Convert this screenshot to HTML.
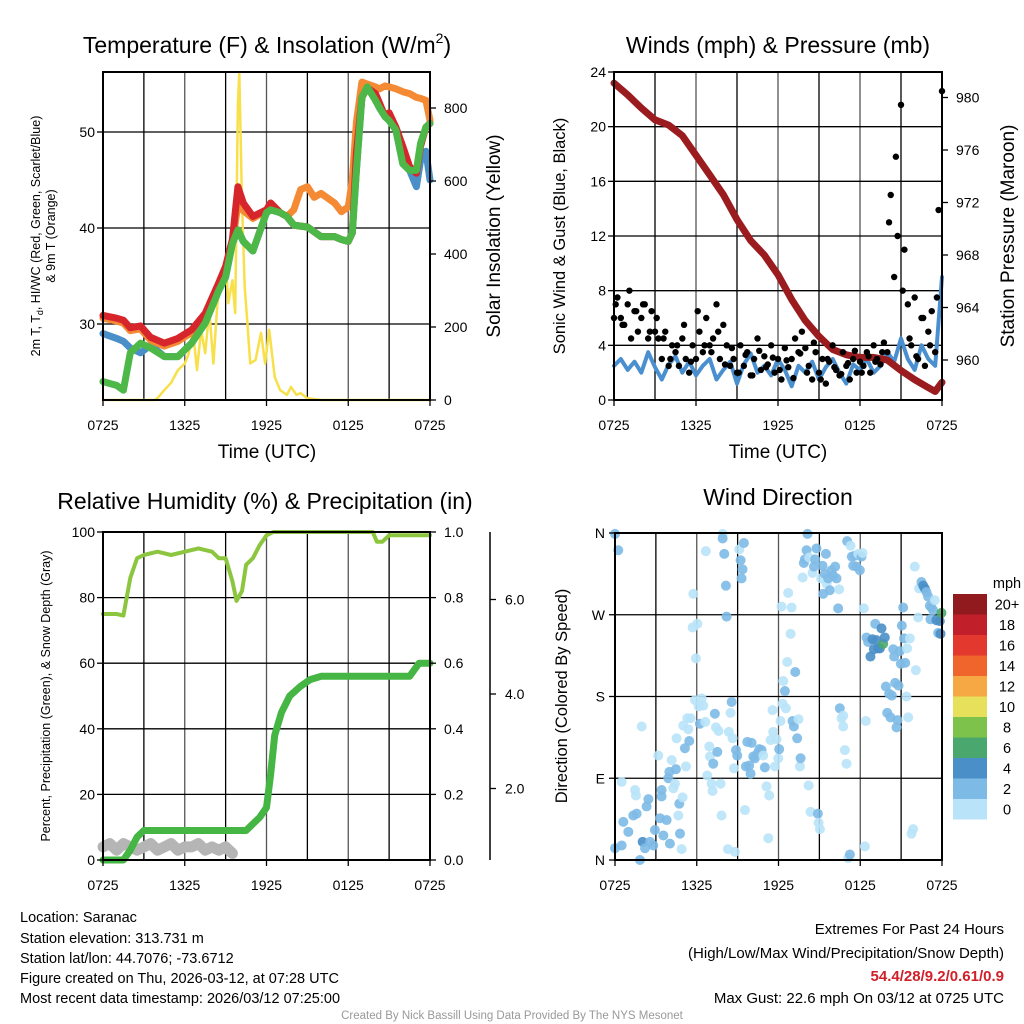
<!DOCTYPE html>
<html><head><meta charset="utf-8">
<style>
html,body{margin:0;padding:0;background:#fff;}
svg{display:block;font-family:"Liberation Sans",Arial,sans-serif;}
</style></head>
<body>
<svg id="c" width="1024" height="1024" viewBox="0 0 1024 1024" xmlns="http://www.w3.org/2000/svg">
<g id="grid"></g>
<g id="marks"></g>
<g id="axes"></g>
<g id="texts" fill="#000">
<text x="267" y="53" font-size="23" text-anchor="middle">Temperature (F) &amp; Insolation (W/m<tspan font-size="14" dy="-10">2</tspan><tspan dy="10">)</tspan></text>
<text x="778" y="53" font-size="23" text-anchor="middle">Winds (mph) &amp; Pressure (mb)</text>
<text x="265" y="509" font-size="23" text-anchor="middle">Relative Humidity (%) &amp; Precipitation (in)</text>
<text x="778" y="505" font-size="23" text-anchor="middle">Wind Direction</text>
<text x="267" y="458" font-size="19" text-anchor="middle">Time (UTC)</text>
<text x="778" y="458" font-size="19" text-anchor="middle">Time (UTC)</text>
<text transform="translate(40,236) rotate(-90)" font-size="12.5" text-anchor="middle">2m T, T<tspan font-size="9" dy="3">d</tspan><tspan dy="-3">, HI/WC (Red, Green, Scarlet/Blue)</tspan></text>
<text transform="translate(55,236) rotate(-90)" font-size="12.5" text-anchor="middle">&amp; 9m T (Orange)</text>
<text transform="translate(500,236) rotate(-90)" font-size="19" text-anchor="middle">Solar Insolation (Yellow)</text>
<text transform="translate(565,236) rotate(-90)" font-size="16.5" text-anchor="middle">Sonic Wind &amp; Gust (Blue, Black)</text>
<text transform="translate(1014,236) rotate(-90)" font-size="19" text-anchor="middle">Station Pressure (Maroon)</text>
<text transform="translate(50,696) rotate(-90)" font-size="12.5" text-anchor="middle">Percent, Precipitation (Green), &amp; Snow Depth (Gray)</text>
<text transform="translate(567,696) rotate(-90)" font-size="16.5" text-anchor="middle">Direction (Colored By Speed)</text>
<g font-size="14.5">
<text x="20" y="922">Location: Saranac</text>
<text x="20" y="943">Station elevation: 313.731 m</text>
<text x="20" y="963">Station lat/lon: 44.7076; -73.6712</text>
<text x="20" y="983">Figure created on Thu, 2026-03-12, at 07:28 UTC</text>
<text x="20" y="1003">Most recent data timestamp: 2026/03/12 07:25:00</text>
</g>
<g font-size="15" text-anchor="end">
<text x="1004" y="934">Extremes For Past 24 Hours</text>
<text x="1004" y="958">(High/Low/Max Wind/Precipitation/Snow Depth)</text>
<text x="1004" y="981" fill="#d0202a" font-weight="bold">54.4/28/9.2/0.61/0.9</text>
<text x="1004" y="1003">Max Gust: 22.6 mph On 03/12 at 0725 UTC</text>
</g>
<text x="512" y="1019" font-size="11.5" fill="#999" text-anchor="middle">Created By Nick Bassill Using Data Provided By The NYS Mesonet</text>
</g>
</svg>
<script>
// ---------- data ----------
const xTickLabels = ["0725","1325","1925","0125","0725"];
const tempTimes = [0,1,1.5,2,2.75,3.5,4.5,5.5,6.5,7.5,8.5,9,9.5,9.9,10.3,11,12,12.3,13,13.5,14,14.5,15,15.5,16,17,17.5,18,18.3,18.6,19,19.4,20,20.3,20.7,21,21.5,22,22.5,23,23.3,23.7,24];
const tempRed = [30.9,30.6,30.4,29.6,29.8,28.6,28,28.5,29.4,31.1,34.3,36,38.8,44.3,42.6,41.2,41.9,42.6,41.6,41.2,40.3,40.2,40.1,39.6,39.1,39.1,38.8,38.6,39.5,47.8,53.6,54.6,54,53,51.6,52,50.5,48.5,46.4,45.7,48.5,50.5,50.9];
const temp9m = [30.6,30.3,30.1,29.3,29.5,28.3,27.7,28.2,29.1,30.7,33.8,35.5,38.3,42.5,41.8,41,41.8,42.6,41.6,41.2,41.9,44,44.3,43.2,43.6,42.6,41.7,42.2,45,51,55.2,55,54.7,54.5,54.8,54.7,54.5,54.2,54,53.6,53.5,53.3,51.2];
const tempHiWc = [24,23.6,23.1,27,28,27.5,26.6,26.6,28,30.1,33.5,34.9,38.4,39.8,38.6,37.6,41.6,41.9,41.6,41.2,40.3,40.2,40.1,39.6,39.1,39.1,38.8,38.6,39.5,46,53.6,54.7,53.3,52.5,51.6,51.2,50.2,46.7,46,46,48.8,50.5,50.9];
const tempDew = [29,28.5,28.2,27.5,27,27.8,26.6,26.6,28,30.1,33.5,34.9,38.4,39.8,38.6,37.6,41.6,41.9,41.6,41.2,40.3,40.2,40.1,39.6,39.1,39.1,38.8,38.6,39.5,46,53.6,54.7,53.3,52.5,51.6,51.2,50.2,46.7,46,44.3,47,48,45];
const solarTimes = [0,3.8,4,4.5,5,5.5,6,6.3,6.6,6.9,7.2,7.5,7.8,8.1,8.4,8.7,9,9.2,9.5,9.7,9.9,10,10.2,10.4,10.6,10.8,11.2,11.6,11.9,12.2,12.6,13,13.5,13.8,14.2,14.5,15,16,24];
const solarVals = [0,0,5,27,47,82,100,128,192,82,192,128,246,100,265,337,392,265,328,238,813,898,540,310,211,100,110,184,100,192,63,27,14,36,14,19,5,0,0];
const pressTimes = [0,1,2,3,4,5,6,7,8,9,10,11,12,13,14,15,16,17,18,19,20,21,22,23,23.5,24];
const pressVals = [981.1,980.2,979.2,978.3,977.9,977.1,975.6,974.1,972.6,970.7,969.1,968,966.5,964.6,963,961.8,960.8,960.4,960.2,960.2,960,959.2,958.5,957.9,957.6,958.3];
const windVals = [2.5,3.0,2.2,2.8,2.0,3.5,2.4,1.5,2.6,3.2,2.0,2.8,1.8,2.5,3.0,1.5,2.2,2.8,1.2,2.6,3.4,2.0,2.5,1.8,3.0,2.2,1.0,2.5,2.0,2.8,1.5,2.4,3.0,2.0,1.2,2.6,2.2,3.0,2.0,2.5,3.5,2.8,4.5,3.0,2.2,4.0,3.0,2.5,9.0];
const gustA = [6,7.5,6,5.5,7,4.5,6.5,5,6,7,4.5,6.5,5,4.5,3,5,2.5,4,3.5,2.5,4.5,3,2,4,3,5,3.5,6,4,4.5,7,3,5.5,4,2.5,3,2,4,2.5,3.5,1.8,3,4.5,2.2,3.2,2.6,4,2,3,1.5,3.8,2.4,3,4.5,3.5,5,3.8,2.5,1.5,3.5,2,3,1.2,2.8,4,2.2,1.8,3.5,2.5,1.5,3,2,2.8,2.5,3.5,2,4,3,2.6,4.2,3.5,15,9,12,21.6,11,7,4,7.5,3,6,2.5,5,6.5,3.5,13.9,22.6];
const gustB = [7,5.5,8,6.5,7,5,6,4.5,3,4,5.5,2.8,6.5,4,3.5,5,2.6,3.8,2,3.3,1.8,3.6,2.4,3.1,2.2,2.9,1.6,3.4,2,4.2,1.5,3,2.4,1.9,2.7,3.6,2,3.2,2.8,3.5,13,17.8,8,4.5,3.2,6,4,7.5];
const rhTimes = [0,1,1.5,2,2.5,3,4,5,6,7,8,8.5,9,9.5,9.8,10.2,10.5,11,11.5,12,12.5,19.8,20.1,20.5,21,24];
const rhVals = [75,75,74.5,86,92,93,94,93,94,95,94,92,92,85,79,82,90,92,96,99,100,100,97,97,99,99];
const precipTimes = [0,1.5,2,2.5,3,10.5,11,11.5,12,12.3,12.6,13.1,13.7,14.5,15.2,16,22.5,23.2,24];
const precipVals = [0,0,0.03,0.07,0.09,0.09,0.11,0.13,0.16,0.26,0.38,0.45,0.5,0.53,0.55,0.56,0.56,0.6,0.6];
const snowVals = [4,5,3,5,4,3,4,5,3,4,5,3,4,4,5,3,4,3,4,2];
const dirTimes = [0,0.24,0,0.49,0.61,0.98,1.34,1.59,0.49,1.47,1.54,1.96,1.83,2.03,2.2,2.32,2.45,2.57,2.81,2.93,3.18,3.3,3.42,3.42,3.55,3.79,3.91,3.99,4.03,4.16,4.28,4.4,4.47,4.52,4.65,4.72,4.77,4.89,4.96,5.01,5.13,5.21,5.31,5.38,5.45,5.55,5.75,5.7,5.87,5.94,6.04,6.14,6.23,6.36,6.48,6.67,6.63,6.77,6.92,6.97,7.09,7.16,7.21,7.33,7.41,7.51,7.6,7.75,7.82,7.9,7.9,8.02,8.14,8.19,8.29,8.36,8.48,8.56,8.63,8.73,8.8,8.88,8.97,9.12,9.22,9.29,9.36,9.46,9.54,9.61,9.71,9.85,9.95,10.02,10.15,10.27,10.44,10.59,10.76,10.88,11,11.12,11.25,11.32,11.42,11.56,11.61,11.74,11.86,11.98,12.05,12.15,12.22,12.3,12.35,12.47,12.54,12.64,12.71,12.89,12.96,13.03,13.13,13.23,13.37,13.47,13.57,13.62,13.77,13.86,13.94,14.06,14.13,14.21,14.25,14.35,14.5,14.6,14.69,14.79,14.89,14.94,15.04,15.13,15.23,15.28,15.4,15.48,15.53,15.65,15.77,15.89,16.01,16.16,16.26,16.38,16.45,16.5,16.63,16.75,16.75,16.87,16.99,17.11,17.24,17.04,17.29,17.38,17.48,17.6,17.73,17.85,17.97,18.09,18.17,18.26,18.34,18.41,18.46,18.58,18.75,18.9,19,19.1,19.19,19.32,19.44,19.56,19.68,19.8,19.88,19.98,20.12,20.22,20.32,20.42,20.49,20.56,20.66,20.73,20.81,20.9,20.98,21.05,21.15,21.22,21.3,21.39,21.44,21.52,21.64,21.76,21.88,22,22.08,22.25,22.32,22.49,22.62,22.74,22.86,22.98,23.11,23.23,23.35,23.15,23.47,23.59,23.72,23.84,23.96,23.89];
const dirVals = [359,341,13,16,42,31,49,51,86,77,71,147,0,20,13,59,67,20,16,33,115,46,70,77,27,44,90,97,18,110,79,84,100,134,49,62,29,12,69,148,123,103,156,144,131,156,293,256,176,222,260,169,150,178,170,340,152,93,125,114,84,76,106,161,146,119,142,84,49,359,354,337,302,268,12,141,162,174,134,101,9,121,115,342,330,310,320,349,55,103,130,104,95,129,114,112,117,122,121,115,102,81,24,71,132,165,141,103,133,112,122,153,279,172,197,186,167,218,294,249,278,153,147,207,134,155,103,112,311,327,331,341,359,82,333,53,316,323,331,343,51,41,34,310,324,293,315,337,304,310,297,319,313,323,310,277,298,167,156,159,147,121,106,2,6,351,346,334,324,335,323,337,319,334,338,277,15,153,245,240,224,243,232,260,242,233,233,255,238,245,191,162,183,157,181,232,224,195,146,154,192,230,216,258,278,244,217,180,233,157,244,29,34,323,209,267,299,306,302,299,295,290,280,278,275,265,286,264,250,263,272,249];
const dirSpeeds = [3,3,3,3,3,3,3,3,1,1,1,1,3,5,3,3,3,3,3,3,1,3,3,3,3,3,3,3,3,1,1,1,3,1,1,3,3,1,1,1,3,1,1,1,3,1,1,1,1,1,1,1,3,1,1,1,1,1,1,1,1,1,3,3,1,3,1,1,1,1,3,3,3,3,1,1,1,3,1,1,1,3,3,1,3,3,3,3,1,3,3,3,3,3,3,3,3,3,3,1,3,1,1,1,1,1,1,1,1,1,3,1,1,1,1,3,1,1,1,1,1,3,3,3,3,1,1,3,1,3,3,3,3,1,1,1,1,3,3,3,3,1,1,1,3,3,3,3,1,3,3,3,3,3,3,3,1,3,1,1,1,1,1,1,3,3,1,3,3,3,3,1,3,3,1,1,1,1,3,3,5,5,5,3,5,5,5,5,7,5,3,3,3,3,3,3,3,3,3,3,3,3,3,3,3,3,3,1,1,1,1,1,1,1,1,1,1,3,5,5,3,3,3,3,3,3,1,5,3,5,7,5];
const cbLabels = ["0","2","4","6","8","10","12","14","16","18","20+"];
const cbColors = ["#b9e3f8","#7dbae6","#4a8fc8","#4aa86e","#7dc24b","#e6e05a","#f6a845","#f0652c","#e2382d","#c11f2a","#911a1e"];

// ---------- scales ----------
const P1 = {x0:103,x1:430,y0:72,y1:400};
const P2 = {x0:614,x1:942,y0:72,y1:400};
const P3 = {x0:103,x1:430,y0:532,y1:860};
const P4 = {x0:615,x1:942,y0:533,y1:860};
const tx = (P,t)=>P.x0 + t*(P.x1-P.x0)/24;
const yTemp = v=>324-(v-30)*9.6;
const ySolar = v=>400-v*0.365;
const yWind = v=>400-v*(328/24);
const yPress = v=>360-(v-960)*13.125;
const yPct = v=>860-v*3.28;
const yPrecip = v=>860-v*328;
const ySnowAx = v=>883-v*47.25;
const yDir = d=>860-d*(327/360);
const spdColor = s=>cbColors[Math.min(10,Math.floor(s/2))];

const NS="http://www.w3.org/2000/svg";
const G = id=>document.getElementById(id);
function mk(tag, parent, attrs){const e=document.createElementNS(NS,tag);for(const k in attrs)e.setAttribute(k,attrs[k]);parent.appendChild(e);return e;}

// ---------- grids & frames ----------
function frame(P, hVals, yf, name){
  const g=G('grid');
  for(let i=1;i<8;i++){
    const x=P.x0+i*(P.x1-P.x0)/8;
    const l=mk('line',g,{x1:x,x2:x,y1:P.y0,y2:P.y1,stroke:(i%2==0?'#555':'#000'),'stroke-width':1.3});
    
    
  }
  hVals.forEach(v=>{
    const y=yf(v);
    const l=mk('line',g,{x1:P.x0,x2:P.x1,y1:y,y2:y,stroke:'#000','stroke-width':1.3});
    
    
  });
  const r=mk('rect',G('axes'),{x:P.x0,y:P.y0,width:P.x1-P.x0,height:P.y1-P.y0,fill:'none',stroke:'#000','stroke-width':2});
  
  
  xTickLabels.forEach((lab,i)=>{
    const x=P.x0+i*(P.x1-P.x0)/4;
    const t=mk('text',G('axes'),{x:x,y:P.y1+30,'font-size':14,'text-anchor':'middle'});
    t.textContent=lab;
    
    
    mk('line',G('axes'),{x1:x,x2:x,y1:P.y1,y2:P.y1+6,stroke:'#000','stroke-width':1.3});
  });
}
function yTicks(P, vals, labels, yf, side, name, dx){
  vals.forEach((v,i)=>{
    const y=yf(v);
    const x= side==='left'?P.x0:P.x1;
    mk('line',G('axes'),{x1:x,x2:x+(side==='left'?-6:6),y1:y,y2:y,stroke:'#000','stroke-width':1.3});
    const t=mk('text',G('axes'),{x:side==='left'?x-(dx||8):x+(dx||14),y:y+5,'font-size':14,'text-anchor':side==='left'?'end':'start'});
    t.textContent=labels[i];
    
    
  });
}
frame(P1,[30,40,50],yTemp,'temp');
frame(P2,[4,8,12,16,20],yWind,'wind');
frame(P3,[20,40,60,80],yPct,'rh');
frame(P4,[90,180,270],yDir,'direction');
yTicks(P1,[30,40,50],["30","40","50"],yTemp,'left','temp-y');
yTicks(P1,[0,200,400,600,800],["0","200","400","600","800"],ySolar,'right','solar-y');
yTicks(P2,[0,4,8,12,16,20,24],["0","4","8","12","16","20","24"],yWind,'left','wind-y');
yTicks(P2,[960,964,968,972,976,980],["960","964","968","972","976","980"],yPress,'right','pressure-y');
yTicks(P3,[0,20,40,60,80,100],["0","20","40","60","80","100"],yPct,'left','rh-y');
yTicks(P3,[0,0.2,0.4,0.6,0.8,1.0],["0.0","0.2","0.4","0.6","0.8","1.0"],yPrecip,'right','precip-y');
yTicks(P4,[0,90,180,270,360],["N","E","S","W","N"],yDir,'left','direction-y',10);
// snow depth axis
const snowAx=mk('line',G('axes'),{x1:490,x2:490,y1:532,y2:860,stroke:'#000','stroke-width':1.5});


[2,4,6].forEach(v=>{
  const y=ySnowAx(v);
  mk('line',G('axes'),{x1:490,x2:496,y1:y,y2:y,stroke:'#000','stroke-width':1.3});
  const t=mk('text',G('axes'),{x:505,y:y+5,'font-size':14});
  t.textContent=v.toFixed(1);
  
  
});

// ---------- series ----------
function line(P, times, vals, yf, color, w, name){
  const pts=vals.map((v,i)=>tx(P,times[i]).toFixed(1)+','+yf(v).toFixed(1)).join(' ');
  const p=mk('polyline',G('marks'),{points:pts,fill:'none',stroke:color,'stroke-width':w,'stroke-linejoin':'round','stroke-linecap':'round'});
  
  
}
line(P1,solarTimes,solarVals,ySolar,'#f7e04a',2.5,'solar-insolation-line');
line(P1,tempTimes,tempDew,yTemp,'#4a8fc8',7,'dewpoint-line');
line(P1,tempTimes,temp9m,yTemp,'#f58a35',7,'temp-9m-line');
line(P1,tempTimes,tempRed,yTemp,'#d7262b',7,'temp-2m-line');
line(P1,tempTimes,tempHiWc,yTemp,'#4db848',7,'heat-index-windchill-line');

const windTimes = windVals.map((v,i)=>i*0.5);
line(P2,windTimes,windVals,yWind,'#4a90d0',4,'sonic-wind-line');
line(P2,pressTimes,pressVals,yPress,'#9b1c1f',7,'pressure-line');
gustA.forEach((v,i)=>{
  const c=mk('circle',G('marks'),{cx:tx(P2,i*0.25),cy:yWind(v),r:3.2,fill:'#000'});
  
  
});
gustB.forEach((v,i)=>{
  const c=mk('circle',G('marks'),{cx:tx(P2,0.125+i*0.5),cy:yWind(v),r:3.2,fill:'#000'});
  
  
});

const snowTimes = snowVals.map((v,i)=>i*0.5);
line(P3,snowTimes,snowVals,yPct,'#b5b5b5',11,'snow-depth-line');
line(P3,rhTimes,rhVals,yPct,'#8cc63f',4,'relative-humidity-line');
line(P3,precipTimes,precipVals,yPrecip,'#45b544',7,'precipitation-line');

dirVals.forEach((d,i)=>{
  const c=mk('circle',G('marks'),{cx:tx(P4,dirTimes[i]),cy:yDir(d),r:5,fill:spdColor(dirSpeeds[i]),'fill-opacity':0.9});
  
  
});

// colorbar
const cbx=953, cbTop=594, cbH=20.5;
cbColors.forEach((col,i)=>{
  const y=cbTop+(10-i)*cbH;
  const r=mk('rect',G('axes'),{x:cbx,y:y,width:34,height:cbH,fill:col});
  
  
  const t=mk('text',G('axes'),{x:1007,y:y+cbH/2+5,'font-size':14.5,'text-anchor':'middle'});
  t.textContent=cbLabels[i];
  
  
});
const mph=mk('text',G('axes'),{x:1007,y:588,'font-size':14.5,'text-anchor':'middle'});
mph.textContent='mph';


</script>
</body></html>
